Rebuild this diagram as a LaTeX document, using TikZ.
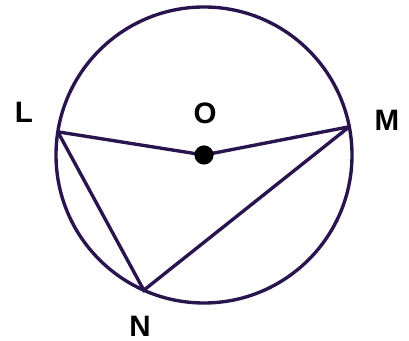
\documentclass[tikz,border=0pt]{standalone}
\usepackage{fontspec}
\setmainfont{Liberation Sans}
\usepackage{xcolor}
\definecolor{ink}{RGB}{42,20,78}

\begin{document}
\begin{tikzpicture}[line width=2.4pt, ink,
    lbl/.style={font=\fontsize{21}{24}\selectfont\bfseries, text=black}]
            \useasboundingbox (-5.1,-4.65) rectangle (5.125,3.875);

            % 圆
            \coordinate (O) at (0,0);
            \draw (O) circle (3.7);

            % 圆上三点
            \coordinate (L) at (171:3.7);
            \coordinate (M) at (11:3.7);
            \coordinate (N) at (246:3.7);

            % 线段
            \draw (L) -- (O) -- (M);
            \draw (L) -- (N) -- (M);

            % 圆心
            \fill[black] (O) circle (0.24);

            \node[lbl] (l) at (-4.5,1.075) {L};
            \node[lbl] (o) at (0.025,1.05) {O};
            \node[lbl] (m) at (4.575,0.875) {M};
            \node[lbl] (n) at (-1.6,-4.275) {N};
        \end{tikzpicture}
\end{document}
